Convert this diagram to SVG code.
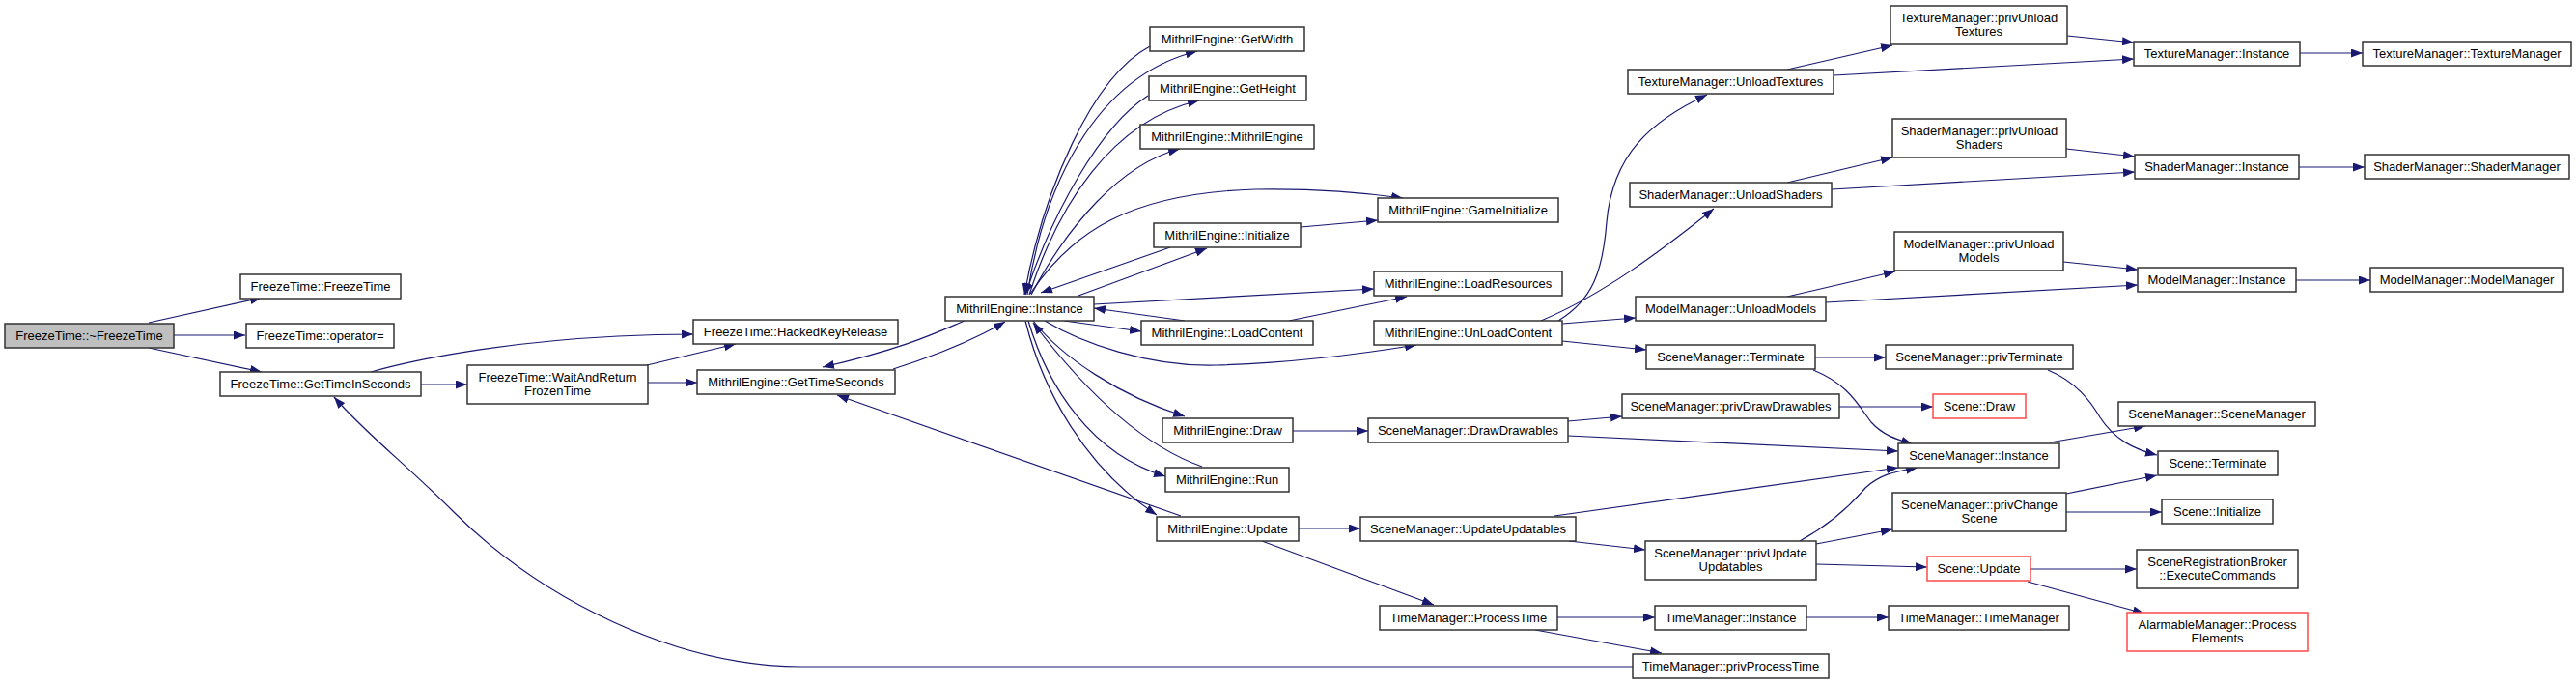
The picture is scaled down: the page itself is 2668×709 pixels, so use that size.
<svg xmlns="http://www.w3.org/2000/svg" width="2668" height="709" viewBox="0 0 2668 709">
<style>
.n rect{fill:#fff;stroke:#333;stroke-width:1.5}
.n.root rect{fill:#bfbfbf}
.n.red rect{stroke:#ff4a4a}
.n text{font-family:"Liberation Sans",Arial,sans-serif;font-size:13px;fill:#000;text-anchor:middle}
#edges path{fill:none;stroke:#191970;stroke-width:1.2;marker-end:url(#ah)}
</style>
<defs>
<marker id="ah" markerWidth="12" markerHeight="9" refX="12" refY="4.5" orient="auto" markerUnits="userSpaceOnUse"><path d="M0,0 L12,4.5 L0,9 z" fill="#191970"/></marker>
</defs>
<rect width="2668" height="709" fill="#fff"/>
<g id="edges">
<path d="M154,334 L271,308"/>
<path d="M180,347 L254,347"/>
<path d="M154,360 L271,385"/>
<path d="M436,398 L484,398"/>
<path d="M384,385 C430,372 520,354 640,348 C680,346 700,346 718,346"/>
<path d="M670,378 L762,356"/>
<path d="M671,396 L722,396"/>
<path d="M925,382 Q995,360 1041,333"/>
<path d="M999,332 C975,342 940,360 852,380"/>
<path d="M1223,534 L867,409"/>
<path d="M1691,690 L830,690 C700,690 560,620 470,530 C420,480 380,450 346,411"/>
<path d="M1064,305 C1080,200 1130,80 1240,53"/>
<path d="M1191,48 C1130,80 1080,200 1061,305"/>
<path d="M1189,99 C1140,130 1090,220 1062,305"/>
<path d="M1066,305 C1095,215 1150,125 1242,104"/>
<path d="M1068,305 C1105,235 1160,170 1222,154"/>
<path d="M1067,304 C1110,240 1170,200 1300,196 C1360,195 1410,199 1453,205"/>
<path d="M1212,256 L1078,303"/>
<path d="M1117,306 L1250,257"/>
<path d="M1133,315 L1423,299"/>
<path d="M1335,332 L1457,307"/>
<path d="M1227,332 L1133,319"/>
<path d="M1102,332 L1182,343"/>
<path d="M1347,235 L1427,228"/>
<path d="M1082,332 C1120,355 1190,380 1260,378 C1330,376 1400,368 1467,357"/>
<path d="M1070,332 C1100,370 1160,410 1227,431"/>
<path d="M1245,483 C1180,460 1120,400 1070,334"/>
<path d="M1065,332 C1085,400 1130,470 1207,493"/>
<path d="M1062,332 C1080,405 1125,485 1198,533"/>
<path d="M1339,446 L1417,446"/>
<path d="M1345,547 L1409,547"/>
<path d="M1307,560 L1485,626"/>
<path d="M1614,332 C1650,310 1660,280 1664,230 C1670,160 1710,125 1768,98"/>
<path d="M1596,332 C1660,305 1720,260 1775,216"/>
<path d="M1618,335 L1694,329"/>
<path d="M1618,353 L1705,362"/>
<path d="M1851,72 L1960,47"/>
<path d="M1899,78 L2210,61"/>
<path d="M2141,37 L2210,44"/>
<path d="M2382,55 L2447,55"/>
<path d="M1851,189 L1960,163"/>
<path d="M1897,196 L2211,178"/>
<path d="M2140,154 L2211,162"/>
<path d="M2381,173 L2449,173"/>
<path d="M1851,307 L1963,281"/>
<path d="M1891,313 L2214,295"/>
<path d="M2137,271 L2214,279"/>
<path d="M2378,290 L2455,290"/>
<path d="M1880,370 L1953,370"/>
<path d="M1878,383 C1915,398 1925,420 1938,437 C1950,450 1962,454 1981,460"/>
<path d="M1624,436 L1680,431"/>
<path d="M1624,451 L1966,467"/>
<path d="M1905,421 L2002,421"/>
<path d="M1610,534 L1966,484"/>
<path d="M1625,560 L1704,569"/>
<path d="M1864,560 C1895,543 1915,525 1932,505 C1948,490 1965,488 1986,484"/>
<path d="M1881,563 L1960,548"/>
<path d="M1881,584 L1996,587"/>
<path d="M1613,639 L1714,639"/>
<path d="M1590,652 L1721,676"/>
<path d="M1871,639 L1956,639"/>
<path d="M2123,458 L2222,441"/>
<path d="M2121,383 C2150,395 2165,415 2175,432 C2190,455 2210,465 2234,471"/>
<path d="M2140,511 L2234,492"/>
<path d="M2140,530 L2239,530"/>
<path d="M2103,589 L2213,589"/>
<path d="M2100,602 L2221,635"/>
</g>
<g id="n_destructor" class="n root"><rect x="5" y="335" width="175" height="25"/><text x="92.5" y="352">FreezeTime::~FreezeTime</text></g>
<g id="n_ft_ctor" class="n"><rect x="249" y="284" width="166" height="25"/><text x="332" y="301">FreezeTime::FreezeTime</text></g>
<g id="n_ft_op" class="n"><rect x="255" y="335" width="153" height="25"/><text x="331.5" y="352">FreezeTime::operator=</text></g>
<g id="n_ft_gtis" class="n"><rect x="228" y="385" width="208" height="25"/><text x="332" y="402">FreezeTime::GetTimeInSeconds</text></g>
<g id="n_ft_wait" class="n"><rect x="484" y="378" width="187" height="40"/><text x="577.5" y="395">FreezeTime::WaitAndReturn</text><text x="577.5" y="409">FrozenTime</text></g>
<g id="n_ft_hkr" class="n"><rect x="718" y="331" width="212" height="25"/><text x="824" y="348">FreezeTime::HackedKeyRelease</text></g>
<g id="n_me_gts" class="n"><rect x="722" y="383" width="205" height="25"/><text x="824.5" y="400">MithrilEngine::GetTimeSeconds</text></g>
<g id="n_me_inst" class="n"><rect x="979" y="307" width="154" height="25"/><text x="1056" y="324">MithrilEngine::Instance</text></g>
<g id="n_me_gw" class="n"><rect x="1191" y="28" width="160" height="25"/><text x="1271" y="45">MithrilEngine::GetWidth</text></g>
<g id="n_me_gh" class="n"><rect x="1190" y="79" width="163" height="25"/><text x="1271.5" y="96">MithrilEngine::GetHeight</text></g>
<g id="n_me_me" class="n"><rect x="1181" y="129" width="180" height="25"/><text x="1271" y="146">MithrilEngine::MithrilEngine</text></g>
<g id="n_me_init" class="n"><rect x="1195" y="231" width="152" height="25"/><text x="1271" y="248">MithrilEngine::Initialize</text></g>
<g id="n_me_lc" class="n"><rect x="1182" y="332" width="178" height="25"/><text x="1271" y="349">MithrilEngine::LoadContent</text></g>
<g id="n_me_draw" class="n"><rect x="1204" y="433" width="135" height="25"/><text x="1271.5" y="450">MithrilEngine::Draw</text></g>
<g id="n_me_run" class="n"><rect x="1207" y="484" width="128" height="25"/><text x="1271" y="501">MithrilEngine::Run</text></g>
<g id="n_me_upd" class="n"><rect x="1198" y="535" width="147" height="25"/><text x="1271.5" y="552">MithrilEngine::Update</text></g>
<g id="n_me_gi" class="n"><rect x="1427" y="205" width="187" height="25"/><text x="1520.5" y="222">MithrilEngine::GameInitialize</text></g>
<g id="n_me_lr" class="n"><rect x="1423" y="281" width="195" height="25"/><text x="1520.5" y="298">MithrilEngine::LoadResources</text></g>
<g id="n_me_ulc" class="n"><rect x="1423" y="332" width="195" height="25"/><text x="1520.5" y="349">MithrilEngine::UnLoadContent</text></g>
<g id="n_tm_ult" class="n"><rect x="1686" y="72" width="213" height="25"/><text x="1792.5" y="89">TextureManager::UnloadTextures</text></g>
<g id="n_tm_pult" class="n"><rect x="1958" y="6" width="183" height="40"/><text x="2049.5" y="23">TextureManager::privUnload</text><text x="2049.5" y="37">Textures</text></g>
<g id="n_tm_inst" class="n"><rect x="2210" y="43" width="172" height="25"/><text x="2296" y="60">TextureManager::Instance</text></g>
<g id="n_tm_ctor" class="n"><rect x="2447" y="43" width="216" height="25"/><text x="2555" y="60">TextureManager::TextureManager</text></g>
<g id="n_sm_uls" class="n"><rect x="1688" y="189" width="209" height="25"/><text x="1792.5" y="206">ShaderManager::UnloadShaders</text></g>
<g id="n_sm_puls" class="n"><rect x="1960" y="123" width="180" height="40"/><text x="2050" y="140">ShaderManager::privUnload</text><text x="2050" y="154">Shaders</text></g>
<g id="n_sm_inst" class="n"><rect x="2211" y="160" width="170" height="25"/><text x="2296" y="177">ShaderManager::Instance</text></g>
<g id="n_sm_ctor" class="n"><rect x="2449" y="160" width="212" height="25"/><text x="2555" y="177">ShaderManager::ShaderManager</text></g>
<g id="n_mm_ulm" class="n"><rect x="1694" y="307" width="197" height="25"/><text x="1792.5" y="324">ModelManager::UnloadModels</text></g>
<g id="n_mm_pulm" class="n"><rect x="1962" y="240" width="175" height="40"/><text x="2049.5" y="257">ModelManager::privUnload</text><text x="2049.5" y="271">Models</text></g>
<g id="n_mm_inst" class="n"><rect x="2214" y="277" width="164" height="25"/><text x="2296" y="294">ModelManager::Instance</text></g>
<g id="n_mm_ctor" class="n"><rect x="2455" y="277" width="200" height="25"/><text x="2555" y="294">ModelManager::ModelManager</text></g>
<g id="n_scm_term" class="n"><rect x="1705" y="357" width="175" height="25"/><text x="1792.5" y="374">SceneManager::Terminate</text></g>
<g id="n_scm_pterm" class="n"><rect x="1953" y="357" width="194" height="25"/><text x="2050" y="374">SceneManager::privTerminate</text></g>
<g id="n_scm_dd" class="n"><rect x="1417" y="433" width="207" height="25"/><text x="1520.5" y="450">SceneManager::DrawDrawables</text></g>
<g id="n_scm_pdd" class="n"><rect x="1680" y="408" width="225" height="25"/><text x="1792.5" y="425">SceneManager::privDrawDrawables</text></g>
<g id="n_sc_draw" class="n red"><rect x="2002" y="408" width="96" height="25"/><text x="2050" y="425">Scene::Draw</text></g>
<g id="n_scm_inst" class="n"><rect x="1966" y="459" width="167" height="25"/><text x="2049.5" y="476">SceneManager::Instance</text></g>
<g id="n_scm_ctor" class="n"><rect x="2194" y="416" width="204" height="25"/><text x="2296" y="433">SceneManager::SceneManager</text></g>
<g id="n_sc_term" class="n"><rect x="2235" y="467" width="124" height="25"/><text x="2297" y="484">Scene::Terminate</text></g>
<g id="n_scm_uu" class="n"><rect x="1409" y="535" width="223" height="25"/><text x="1520.5" y="552">SceneManager::UpdateUpdatables</text></g>
<g id="n_scm_puu" class="n"><rect x="1704" y="560" width="177" height="40"/><text x="1792.5" y="577">SceneManager::privUpdate</text><text x="1792.5" y="591">Updatables</text></g>
<g id="n_scm_pcs" class="n"><rect x="1960" y="510" width="180" height="40"/><text x="2050" y="527">SceneManager::privChange</text><text x="2050" y="541">Scene</text></g>
<g id="n_sc_init" class="n"><rect x="2239" y="517" width="115" height="25"/><text x="2296.5" y="534">Scene::Initialize</text></g>
<g id="n_sc_upd" class="n red"><rect x="1996" y="576" width="107" height="25"/><text x="2049.5" y="593">Scene::Update</text></g>
<g id="n_srb" class="n"><rect x="2213" y="569" width="167" height="40"/><text x="2296.5" y="586">SceneRegistrationBroker</text><text x="2296.5" y="600">::ExecuteCommands</text></g>
<g id="n_am" class="n red"><rect x="2203" y="634" width="187" height="40"/><text x="2296.5" y="651">AlarmableManager::Process</text><text x="2296.5" y="665">Elements</text></g>
<g id="n_tim_pt" class="n"><rect x="1429" y="627" width="184" height="25"/><text x="1521" y="644">TimeManager::ProcessTime</text></g>
<g id="n_tim_inst" class="n"><rect x="1714" y="627" width="157" height="25"/><text x="1792.5" y="644">TimeManager::Instance</text></g>
<g id="n_tim_ctor" class="n"><rect x="1956" y="627" width="187" height="25"/><text x="2049.5" y="644">TimeManager::TimeManager</text></g>
<g id="n_tim_ppt" class="n"><rect x="1691" y="677" width="203" height="25"/><text x="1792.5" y="694">TimeManager::privProcessTime</text></g>
</svg>
